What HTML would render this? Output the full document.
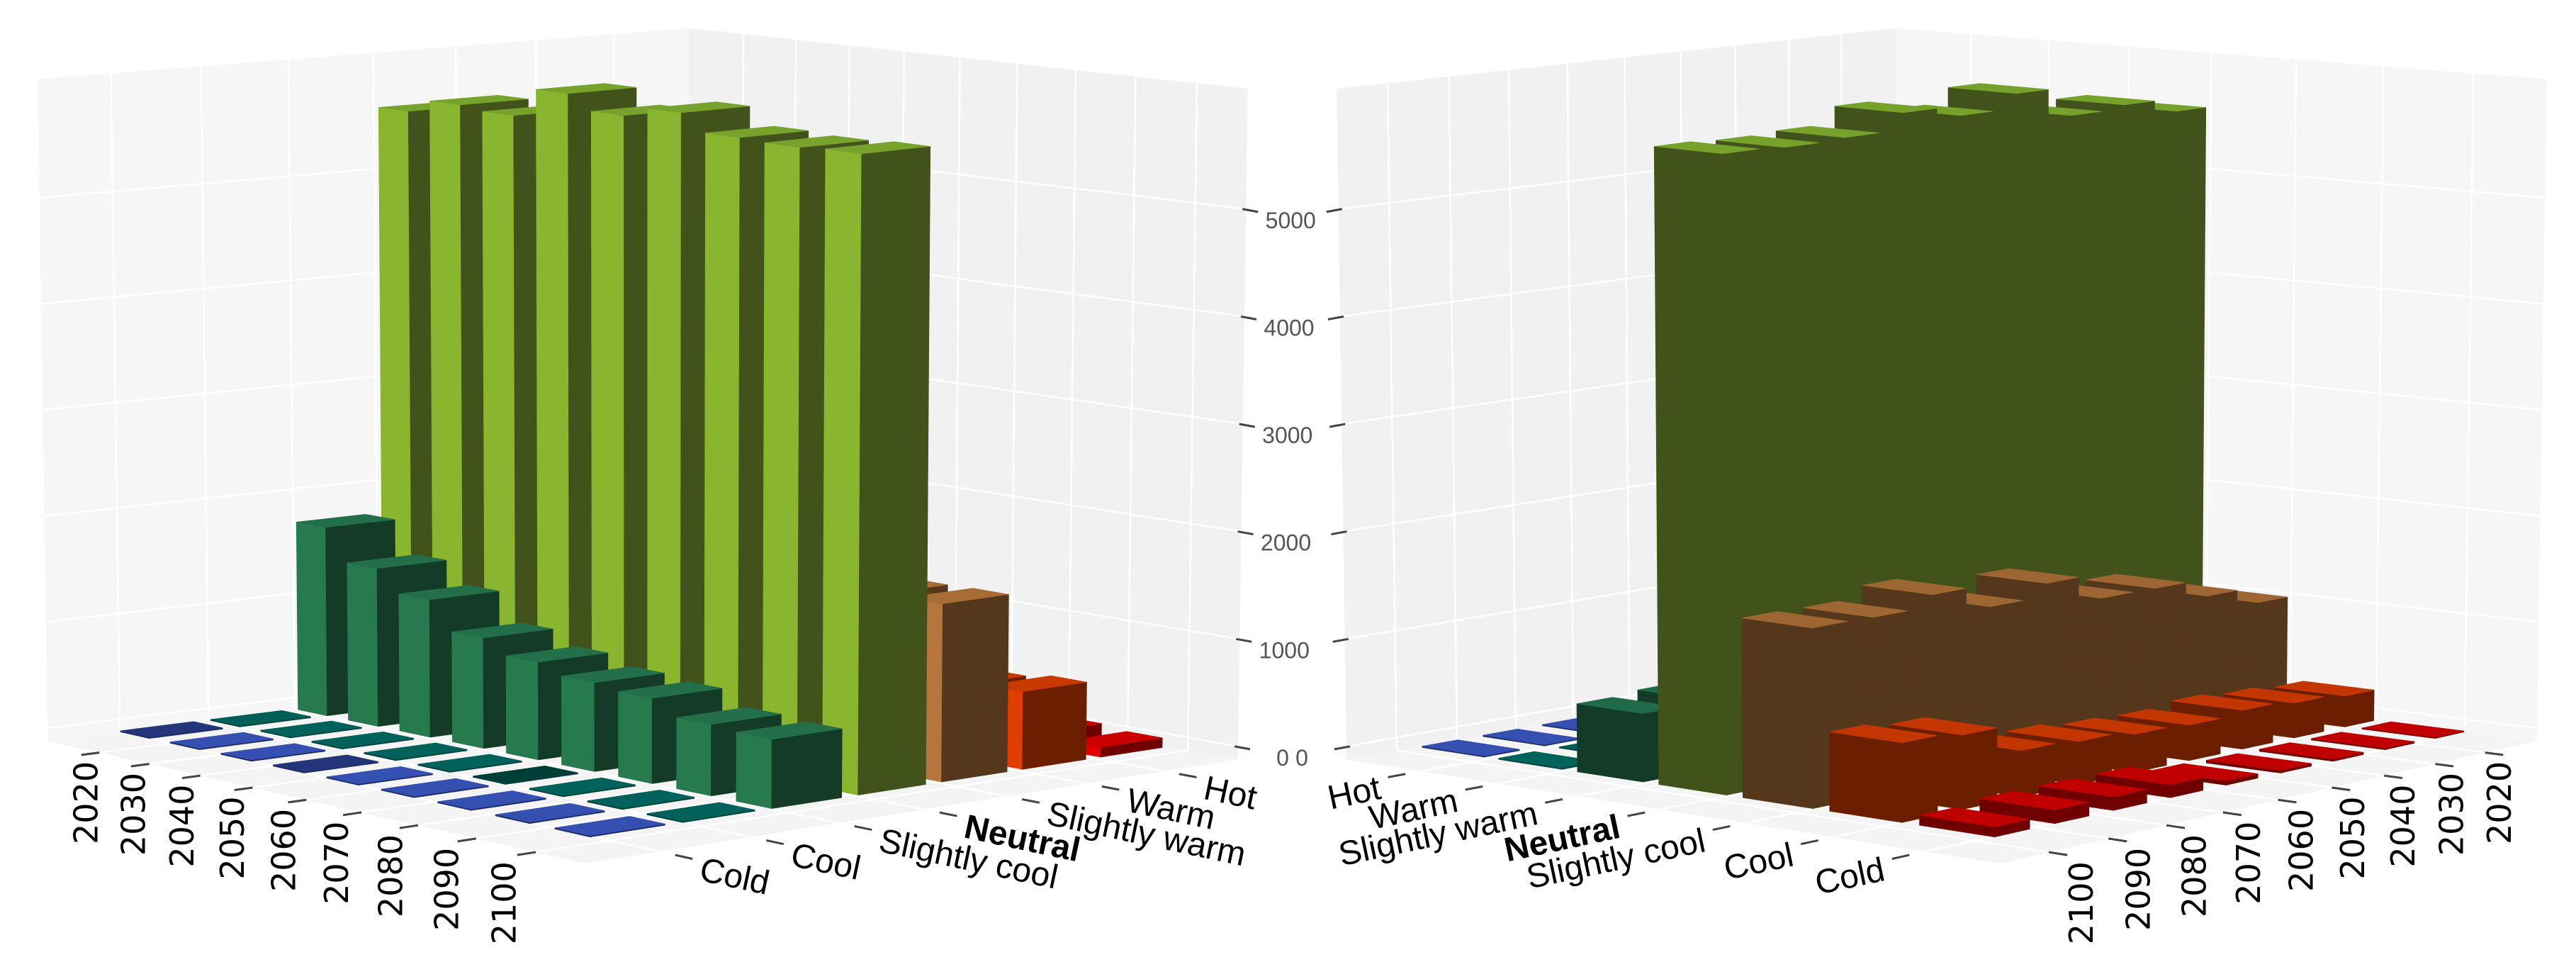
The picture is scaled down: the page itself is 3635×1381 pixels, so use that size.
<!DOCTYPE html>
<html><head><meta charset="utf-8"><style>
html,body{margin:0;padding:0;background:#fff;}
svg{display:block;}
</style></head><body>
<svg id="chart" xmlns="http://www.w3.org/2000/svg" width="3635" height="1381" viewBox="0 0 3635 1381">
<g id="panels"></g>
</svg>
<script>
// ---- data ----
const years = [2020, 2030, 2040, 2050, 2060, 2070, 2080, 2090, 2100];
const categories = ["Cold", "Cool", "Slightly cool", "Neutral", "Slightly warm", "Warm", "Hot"];
const coldValues = [12, 12, 12, 12, 12, 12, 12, 12, 12];
const coolValues = [12, 12, 12, 12, 12, 12, 12, 12, 12];
const slightlyCoolValues = [1786, 1489, 1289, 1029, 905, 818, 781, 649, 625];
const neutralValues = [5664, 5789, 5754, 6027, 5889, 5985, 5827, 5810, 5828];
const slightlyWarmValues = [1073, 1228, 1395, 1399, 1634, 1516, 1727, 1622, 1630];
const warmValues = [291, 325, 361, 328, 349, 392, 419, 672, 715];
const hotValues = [10, 15, 20, 25, 40, 117, 122, 122, 90];
const zTickValues = [0, 1000, 2000, 3000, 4000, 5000];

const series = [coldValues, coolValues, slightlyCoolValues, neutralValues, slightlyWarmValues, warmValues, hotValues];

// ---- styles ----
const topLeft = ['#3550b0', '#006660', '#236f49', '#77a22b', '#a86c36', '#c83a00', '#c80000'];
const topRight = ['#3550b0', '#006660', '#1f6b47', '#76a12a', '#9e6633', '#c43600', '#c00000'];
const sideLight = ['#3550b0', '#006660', '#277a4d', '#8ab52e', '#b5753c', '#e03e00', '#e00000'];
const sideDark = ['#1c2c66', '#00403a', '#133b27', '#41531a', '#55371c', '#6b1e00', '#700000'];
const coldTile = ['#24357a', '#3550b0', '#3550b0', '#24357a', '#3550b0', '#3550b0', '#3550b0', '#3550b0', '#3550b0'];
const coolTile = ['#006058', '#00625a', '#00625a', '#00625a', '#00625a', '#003e38', '#00625a', '#00625a', '#00625a'];

// ---- projection (axis functions) ----
const HA = 660.8, HB = 1022.2, HC = 67, HD = 29.4, HE = -1.7, HF = 1027, HG = -0.1189, HH = 0.1206;
const ZMIN = -120, ZMAX = 6120, MIRROR = 3647;
const DU = 0.0295, DV = 0.052;
function uPos(j) { return 0.1078 + j * 0.10125; }
function vPos(i) { return 0.1017 + i * 0.1285; }
function P(u, v, z, panel) {
  const w = HG * u + HH * v + 1;
  const x = (HA * u + HB * v + HC) / w;
  const y = (HD * u + HE * v + HF) / w;
  const s = 1 / (6.684 - 0.397 * u + 0.309 * v);
  const dx = -0.015 * (1 - u) * (1 - v) + 0.0148 * u * v;
  const hp = z * s;
  let X = x + hp * dx;
  const Y = y - hp;
  if (panel === 1) X = MIRROR - X;
  return [X, Y];
}
const NS = 'http://www.w3.org/2000/svg';
const root = document.getElementById('panels');
function mk(tag, attrs, parent) {
  const el = document.createElementNS(NS, tag);
  for (const k in attrs) el.setAttribute(k, attrs[k]);
  parent.appendChild(el);
  return el;
}
function pts(arr) { return arr.map(p => p[0].toFixed(1) + ',' + p[1].toFixed(1)).join(' '); }

for (let p = 0; p < 2; p++) {
  const g = mk('g', {}, root);
  
  

  const lw = mk('polygon', {points: pts([P(0,0,ZMIN,p), P(0,1,ZMIN,p), P(0,1,ZMAX,p), P(0,0,ZMAX,p)]), fill: '#f6f6f6'}, g);
  
  
  const rw = mk('polygon', {points: pts([P(0,1,ZMIN,p), P(1,1,ZMIN,p), P(1,1,ZMAX,p), P(0,1,ZMAX,p)]), fill: '#f1f1f1'}, g);
  
  
  const fl = mk('polygon', {points: pts([P(0,0,ZMIN,p), P(1,0,ZMIN,p), P(1,1,ZMIN,p), P(0,1,ZMIN,p)]), fill: '#f4f4f4'}, g);
  
  

  const grid = mk('g', {stroke: '#ffffff', 'stroke-width': 2.6, fill: 'none'}, g);
  
  
  for (let i = 0; i < categories.length; i++) {
    const v = vPos(i);
    const a = P(0, v, ZMIN, p), b = P(0, v, ZMAX, p);
    const l1 = mk('line', {x1: a[0], y1: a[1], x2: b[0], y2: b[1]}, grid);
    
    
    const c = P(0, v, ZMIN, p), d = P(1, v, ZMIN, p);
    const l2 = mk('line', {x1: c[0], y1: c[1], x2: d[0], y2: d[1]}, grid);
    
    
  }
  for (let j = 0; j < years.length; j++) {
    const u = uPos(j);
    const a = P(u, 1, ZMIN, p), b = P(u, 1, ZMAX, p);
    const l1 = mk('line', {x1: a[0], y1: a[1], x2: b[0], y2: b[1]}, grid);
    
    
    const c = P(u, 0, ZMIN, p), d = P(u, 1, ZMIN, p);
    const l2 = mk('line', {x1: c[0], y1: c[1], x2: d[0], y2: d[1]}, grid);
    
    
  }
  for (const zt of zTickValues) {
    const a = P(0, 0, zt, p), b = P(0, 1, zt, p), c = P(1, 1, zt, p);
    const l = mk('polyline', {points: pts([a, b, c])}, grid);
    
    
  }

  const bars = [];
  for (let k = 0; k < categories.length; k++) {
    for (let j = 0; j < years.length; j++) {
      const u = uPos(j);
      const v = vPos(p === 0 ? k : 6 - k);
      bars.push({k, j, u, v, val: series[k][j]});
    }
  }
  bars.sort((A, B) => (A.u - A.v) - (B.u - B.v));
  const bg = mk('g', {}, g);
  
  
  for (const b of bars) {
    const u0 = b.u - DU, u1 = b.u + DU, v0 = b.v - DV, v1 = b.v + DV, z = b.val;
    let top, fv, fu;
    if (b.k === 0) { top = coldTile[b.j]; fv = sideDark[0]; fu = sideDark[0]; }
    else if (b.k === 1) { top = coolTile[b.j]; fv = sideDark[1]; fu = sideDark[1]; }
    else if (p === 0) { top = topLeft[b.k]; fv = sideLight[b.k]; fu = sideDark[b.k]; }
    else { top = topRight[b.k]; fv = sideDark[b.k]; fu = sideDark[b.k]; }
    const bar = mk('g', {}, bg);
    
    
    mk('polygon', {points: pts([P(u0,v0,0,p), P(u1,v0,0,p), P(u1,v0,z,p), P(u0,v0,z,p)]), fill: fv, stroke: fv, 'stroke-width': 0.6}, bar);
    mk('polygon', {points: pts([P(u1,v0,0,p), P(u1,v1,0,p), P(u1,v1,z,p), P(u1,v0,z,p)]), fill: fu, stroke: fu, 'stroke-width': 0.6}, bar);
    mk('polygon', {points: pts([P(u0,v0,z,p), P(u1,v0,z,p), P(u1,v1,z,p), P(u0,v1,z,p)]), fill: top, stroke: top, 'stroke-width': 0.6}, bar);
  }

  const yAx = mk('g', {}, g);
  
  
  for (let j = 0; j < years.length; j++) {
    const u = uPos(j);
    const a = P(u, 0, ZMIN, p), b = P(u, -0.025, ZMIN, p);
    const t = mk('line', {x1: a[0], y1: a[1], x2: b[0], y2: b[1], stroke: '#444', 'stroke-width': 3}, yAx);
    
    
    const fs = 46;
    let cx = (p === 0 ? b[0] : MIRROR - b[0]) + 6 - 25 * j / 8;
    if (p === 1) cx = MIRROR - cx;
    const top = b[1] + 9;
    const ax = cx + 0.36 * fs;
    const tx = mk('text', {x: ax, y: top, transform: `rotate(-90 ${ax} ${top})`, 'text-anchor': 'end',
      'font-family': '"DejaVu Sans", sans-serif', 'font-size': fs, fill: '#000'}, yAx);
    tx.textContent = years[j];
    
    
  }

  const cAx = mk('g', {}, g);
  
  
  for (let i = 0; i < categories.length; i++) {
    const v = vPos(i);
    const a = P(1.025, v, ZMIN, p), b = P(1.053, v, ZMIN, p);
    const t = mk('line', {x1: a[0], y1: a[1], x2: b[0], y2: b[1], stroke: '#444', 'stroke-width': 3}, cAx);
    
    
    const ax = p === 0 ? b[0] + 8 : b[0] - 8, ay = b[1] + 30;
    const ang = p === 0 ? 12 : -12;
    const tx = mk('text', {x: ax, y: ay, transform: `rotate(${ang} ${ax} ${ay})`, 'text-anchor': p === 0 ? 'start' : 'end',
      'font-family': '"Liberation Sans", sans-serif', 'font-size': 48, fill: '#000',
      'font-weight': categories[i] === 'Neutral' ? 'bold' : 'normal'}, cAx);
    tx.textContent = categories[i];
    
    
  }

  const zAx = mk('g', {}, g);
  
  
  for (const zt of zTickValues) {
    const e = P(1, 1, zt, p);
    const sgn = p === 0 ? 1 : -1;
    const t = mk('line', {x1: e[0] - 5 * sgn, y1: e[1], x2: e[0] + 17 * sgn, y2: e[1] + 4, stroke: '#444', 'stroke-width': 3}, zAx);
    
    
    if (p === 1 && zt !== 0) continue;
    const tx = mk('text', {x: e[0] + 63 * sgn, y: e[1] + 27, 'text-anchor': 'middle',
      'font-family': '"Liberation Sans", sans-serif', 'font-size': 32, fill: '#555'}, zAx);
    tx.textContent = zt;
    
    
  }
}
</script>
</body></html>
